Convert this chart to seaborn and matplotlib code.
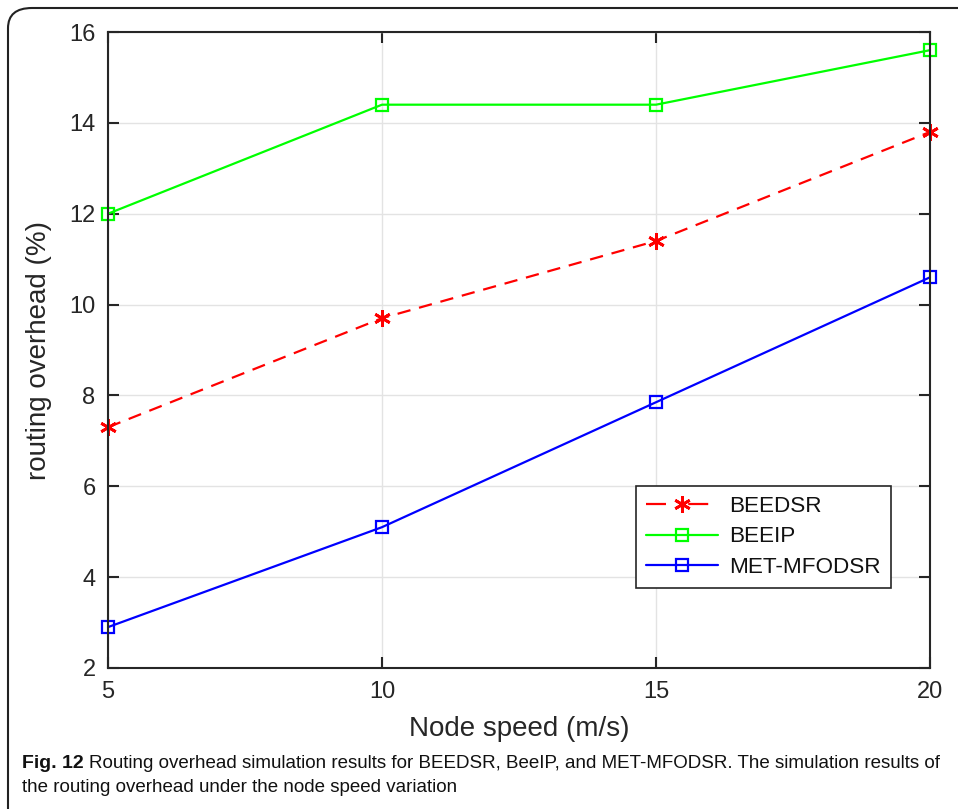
import matplotlib
matplotlib.use("Agg")
import matplotlib.pyplot as plt
from matplotlib.patches import FancyBboxPatch
from matplotlib.lines import Line2D
import seaborn as sns
import pandas as pd

# Routing overhead versus node speed for the three protocols
node_speed = [5, 10, 15, 20]
beedsr = [7.3, 9.7, 11.4, 13.8]
beeip = [12.0, 14.4, 14.4, 15.6]
met_mfodsr = [2.9, 5.1, 7.85, 10.6]

series_names = ["BEEDSR", "BEEIP", "MET-MFODSR"]
x_ticks = [5, 10, 15, 20]
y_ticks = [2, 4, 6, 8, 10, 12, 14, 16]

sns.set_theme(style="white")
plt.rcParams["font.family"] = ["Liberation Sans", "DejaVu Sans"]

fig = plt.figure(figsize=(9.58, 8.09), dpi=100)
ax = fig.add_axes([108 / 958, 1 - 668 / 809, (930 - 108) / 958, (668 - 32) / 809])

asterisk = (6, 2, 0)
styles = [
    dict(color="#ff0000", marker=asterisk, dashes=(6, 4), ms=12, mew=2.0),
    dict(color="#00ff00", marker="s", dashes=None, ms=9, mew=1.6),
    dict(color="#0000ff", marker="s", dashes=None, ms=9, mew=1.6),
]
values = [beedsr, beeip, met_mfodsr]

handles = []
for name, vals, st in zip(series_names, values, styles):
    df = pd.DataFrame({"speed": node_speed, "overhead": vals})
    kw = dict(color=st["color"], marker=st["marker"], markersize=st["ms"],
              markeredgewidth=st["mew"], markeredgecolor=st["color"],
              markerfacecolor="none", linewidth=1.6, clip_on=False)
    if st["dashes"] is not None:
        kw["dashes"] = st["dashes"]
    sns.lineplot(data=df, x="speed", y="overhead", ax=ax, legend=False, **kw)
    h = Line2D([], [], color=st["color"], marker=st["marker"], markersize=st["ms"],
               markeredgewidth=st["mew"], markerfacecolor="none", linewidth=1.6,
               linestyle=(0, (9, 10)) if st["dashes"] else "-")
    handles.append(h)

ax.set_xlim(5, 20)
ax.set_ylim(2, 16)
ax.set_xticks(x_ticks)
ax.set_yticks(y_ticks)
ax.grid(True, color="#e3e3e3", linewidth=1.0)
ax.set_axisbelow(True)
for s in ax.spines.values():
    s.set_visible(True)
    s.set_color("#262626")
    s.set_linewidth(1.5)
ax.tick_params(direction="in", length=8, width=1.5, color="#262626",
               top=True, right=True, bottom=True, left=True,
               labelsize=17, labelcolor="#262626", pad=9)
ax.set_xlabel("Node speed (m/s)", fontsize=20, color="#262626", labelpad=10)
ax.set_ylabel("routing overhead (%)", fontsize=20, color="#262626", labelpad=12)

leg = ax.legend(handles, series_names, loc="lower right",
                bbox_to_anchor=((891 - 108) / (930 - 108), (668 - 588) / (668 - 32)),
                fontsize=16.2, frameon=True, fancybox=False, handlelength=3.2,
                borderpad=0.45, labelspacing=0.42, handletextpad=0.5,
                borderaxespad=0)
leg.get_frame().set_edgecolor("#262626")
leg.get_frame().set_linewidth(1.2)
leg.get_frame().set_alpha(1)
for t in leg.get_texts():
    t.set_color("#111111")

# rounded frame around the figure
frame = FancyBboxPatch((8 / 958, -0.05), 1.2, (809 - 8) / 809 + 0.05,
                       boxstyle="round,pad=0,rounding_size=0.025",
                       transform=fig.transFigure, fill=False,
                       edgecolor="#222222", linewidth=1.5, clip_on=False)
fig.patches.append(frame)

cap_size = 13.5
y1 = 1 - 763 / 809
lead = fig.text(22 / 958, y1, "Fig. 12", fontsize=cap_size + 0.5, fontweight="bold",
                color="#111111", va="center")
fig.canvas.draw()
bb = lead.get_window_extent()
fig.text((bb.x1 + 5) / 958, y1,
         "Routing overhead simulation results for BEEDSR, BeeIP, and MET-MFODSR. The simulation results of",
         fontsize=cap_size, color="#111111", va="center")
fig.text(22 / 958, 1 - 787 / 809, "the routing overhead under the node speed variation",
         fontsize=cap_size, color="#111111", va="center")

fig.savefig("out.png", dpi=100)
